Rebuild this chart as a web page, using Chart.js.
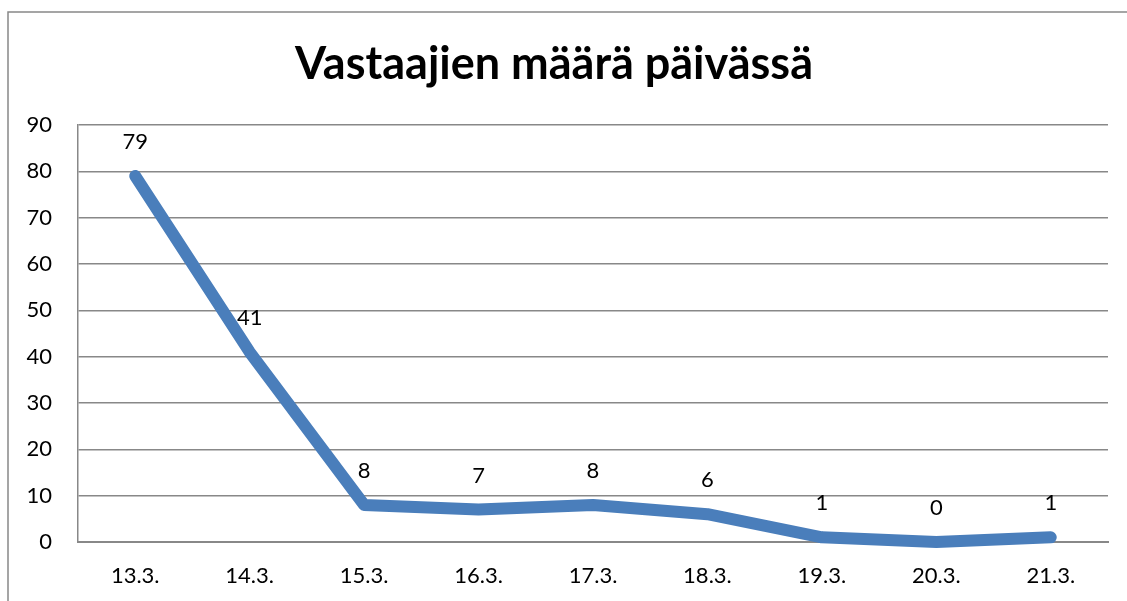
<!DOCTYPE html>
<html lang="fi">
<head>
  <meta charset="UTF-8">
  <title>Vastaajien määrä päivässä</title>
  <script src="https://cdn.jsdelivr.net/npm/chart.js"></script>
  <style>
    html, body { margin: 0; padding: 0; background: #fff; }
    #wrap { width: 1127px; height: 601px; }
  </style>
</head>
<body>
  <div id="wrap"><canvas id="dayChart" width="1127" height="601"></canvas></div>

  <script>
    // chart data
    const days = ['13.3.', '14.3.', '15.3.', '16.3.', '17.3.', '18.3.', '19.3.', '20.3.', '21.3.'];
    const respondents = [79, 41, 8, 7, 8, 6, 1, 0, 1];
    const yTicks = [0, 10, 20, 30, 40, 50, 60, 70, 80, 90];

    const font = 'Lato, "Open Sans", sans-serif';

    // outer frame of the chart object (only top and left sides are visible)
    const framePlugin = {
      id: 'frame',
      beforeDraw(chart) {
        const ctx = chart.ctx;
        ctx.save();
        ctx.strokeStyle = '#888888';
        ctx.lineWidth = 1.5;
        ctx.beginPath();
        ctx.moveTo(8, 601);
        ctx.lineTo(8, 12);
        ctx.lineTo(1127, 12);
        ctx.stroke();
        ctx.restore();
      }
    };

    // value labels above each point
    const valueLabels = {
      id: 'valueLabels',
      afterDatasetsDraw(chart) {
        const ctx = chart.ctx;
        const meta = chart.getDatasetMeta(0);
        ctx.save();
        ctx.fillStyle = '#000';
        ctx.font = '22px ' + font;
        ctx.textAlign = 'center';
        ctx.textBaseline = 'middle';
        meta.data.forEach((pt, i) => {
          ctx.fillText(String(respondents[i]), pt.x, pt.y - 34);
        });
        ctx.restore();
      }
    };

    const ctx = document.getElementById('dayChart').getContext('2d');
    new Chart(ctx, {
      type: 'line',
      data: {
        labels: days,
        datasets: [{
          data: respondents,
          borderColor: '#4a7ebb',
          borderWidth: 12,
          borderCapStyle: 'round',
          borderJoinStyle: 'round',
          pointRadius: 0,
          tension: 0,
          clip: 10
        }]
      },
      options: {
        responsive: false,
        animation: false,
        layout: { padding: { top: 12, right: 19, left: 0, bottom: 0 } },
        plugins: {
          legend: { display: false },
          tooltip: { enabled: false },
          title: {
            display: true,
            text: 'Vastaajien määrä päivässä',
            color: '#000',
            font: { family: font, size: 45, weight: 'bold', lineHeight: 1.2 },
            padding: { top: 25, bottom: 34 }
          }
        },
        scales: {
          x: {
            offset: true,
            grid: { display: false, drawTicks: false },
            border: { display: true, color: '#888888', width: 2 },
            ticks: { color: '#000', font: { family: font, size: 22 }, padding: 21, maxRotation: 0 },
            afterFit(scale) { scale.height = 59; }
          },
          y: {
            min: 0,
            max: 90,
            afterBuildTicks(scale) { scale.ticks = yTicks.map(v => ({ value: v })); },
            grid: { color: '#888888', lineWidth: 1.5, drawTicks: false },
            border: { display: true, color: '#888888', width: 1.5 },
            ticks: { color: '#000', font: { family: font, size: 22 }, padding: 26 },
            afterFit(scale) { scale.width = 78; }
          }
        }
      },
      plugins: [framePlugin, valueLabels]
    });
  </script>
</body>
</html>
